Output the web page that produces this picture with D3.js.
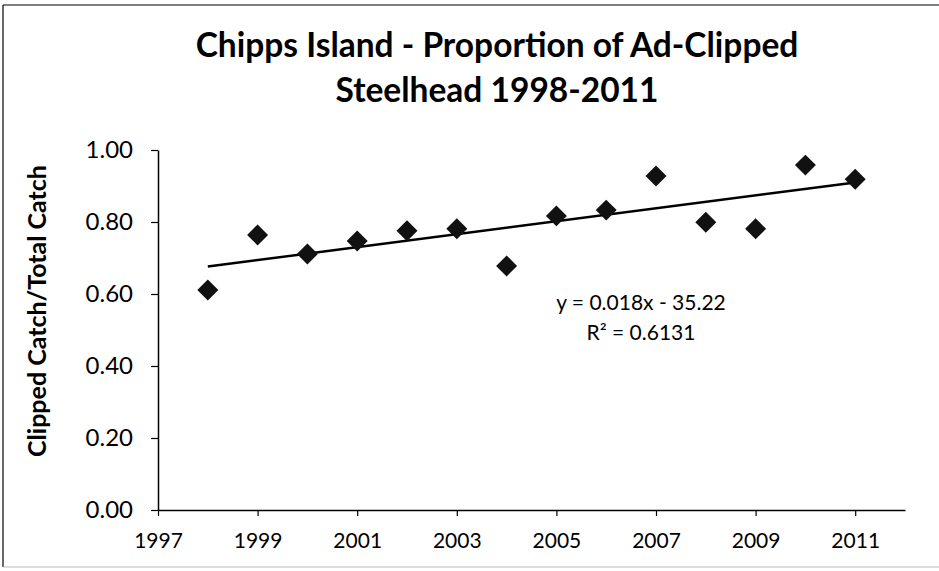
<!DOCTYPE html>
<html>
<head>
<meta charset="utf-8">
<script src="https://cdn.jsdelivr.net/npm/d3@7"></script>
<style>
  body{margin:0;background:#fff;}
  text{font-family:Lato,'Open Sans',sans-serif;fill:#000;}
</style>
</head>
<body>
<div id="chart"></div>
<script>
// data
var years = [1998,1999,2000,2001,2002,2003,2004,2005,2006,2007,2008,2009,2010,2011];
var proportions = [0.611,0.764,0.711,0.747,0.776,0.781,0.678,0.817,0.833,0.928,0.799,0.781,0.958,0.919];
var xTicks = [1997,1999,2001,2003,2005,2007,2009,2011];
var yTicks = [0,0.2,0.4,0.6,0.8,1.0];
var titleLines = ["Chipps Island - Proportion of Ad-Clipped","Steelhead 1998-2011"];
var yTitle = "Clipped Catch/Total Catch";
var equationLines = ["y = 0.018x - 35.22","R\u00B2 = 0.6131"];

var width = 939, height = 571;

var svg = d3.select('#chart').append('svg')
  .attr('width',width)
  .attr('height',height);

//outer chart border (right side runs off the page)
svg.append('line').attr('x1',3).attr('x2',width).attr('y1',5).attr('y2',5)
  .attr('style','stroke:#000;stroke-width:1.2');
svg.append('line').attr('x1',3).attr('x2',3).attr('y1',5).attr('y2',567)
  .attr('style','stroke:#000;stroke-width:1.2');
svg.append('line').attr('x1',3).attr('x2',width).attr('y1',567).attr('y2',567)
  .attr('style','stroke:#bbb;stroke-width:1');

var x = d3.scaleLinear().domain([1997,2012]).range([158,905]);
var y = d3.scaleLinear().domain([0,1]).range([510,150]);

//title
svg.selectAll('.title').data(titleLines).enter().append('text')
  .attr('class','title')
  .attr('x',497)
  .attr('y',function(d,i){ return 57 + 45*i; })
  .attr('text-anchor','middle')
  .attr('font-size',33.5)
  .attr('font-weight','bold')
  .text(function(d){ return d; });

//axes
var xAxis = d3.axisBottom(x).tickValues(xTicks).tickFormat(d3.format('d')).tickSize(6).tickSizeOuter(0);
var yAxis = d3.axisLeft(y).tickValues(yTicks).tickFormat(d3.format('.2f')).tickSize(7).tickSizeOuter(0);

var gx = svg.append('g').attr('transform','translate(0,'+y(0)+')').call(xAxis);
gx.select('.domain').attr('stroke','#000').attr('stroke-width',1.5);
gx.selectAll('.tick line').attr('stroke','#000').attr('stroke-width',1.2);
gx.selectAll('.tick text').attr('font-size',21).attr('font-family','Lato').attr('dy',null).attr('y',38);

var gy = svg.append('g').attr('transform','translate('+x(1997)+',0)').call(yAxis);
gy.select('.domain').attr('stroke','#000').attr('stroke-width',1.5);
gy.selectAll('.tick line').attr('stroke','#000').attr('stroke-width',1.2);
gy.selectAll('.tick text').attr('font-size',24).attr('font-family','Lato').attr('x',-25);

//y axis title
svg.append('text')
  .attr('transform','translate(46,311) rotate(-90)')
  .attr('text-anchor','middle')
  .attr('font-size',25)
  .attr('font-weight','bold')
  .text(yTitle);

//linear trend line fitted to the points
var points = years.map(function(yr,i){ return {year:yr,value:proportions[i]}; });
var meanX = d3.mean(years), meanY = d3.mean(proportions);
var sxy = d3.sum(points,function(p){ return (p.year-meanX)*(p.value-meanY); });
var sxx = d3.sum(points,function(p){ return (p.year-meanX)*(p.year-meanX); });
var slope = sxy/sxx, intercept = meanY - slope*meanX;
var trendX = d3.extent(years);

svg.append('line')
  .attr('x1',x(trendX[0])).attr('y1',y(slope*trendX[0]+intercept))
  .attr('x2',x(trendX[1])).attr('y2',y(slope*trendX[1]+intercept))
  .attr('style','stroke:#000;stroke-width:2.5');

//diamond markers
svg.selectAll('.pt').data(points).enter().append('path')
  .attr('class','pt')
  .attr('d',d3.symbol().type(d3.symbolSquare).size(220))
  .attr('transform',function(d){ return 'translate('+x(d.year)+','+y(d.value)+') rotate(45)'; })
  .attr('fill','#111');

//trend equation
svg.selectAll('.eq').data(equationLines).enter().append('text')
  .attr('class','eq')
  .attr('x',641)
  .attr('y',function(d,i){ return 310 + 30*i; })
  .attr('text-anchor','middle')
  .attr('font-size',21)
  .text(function(d){ return d; });
</script>
</body>
</html>
